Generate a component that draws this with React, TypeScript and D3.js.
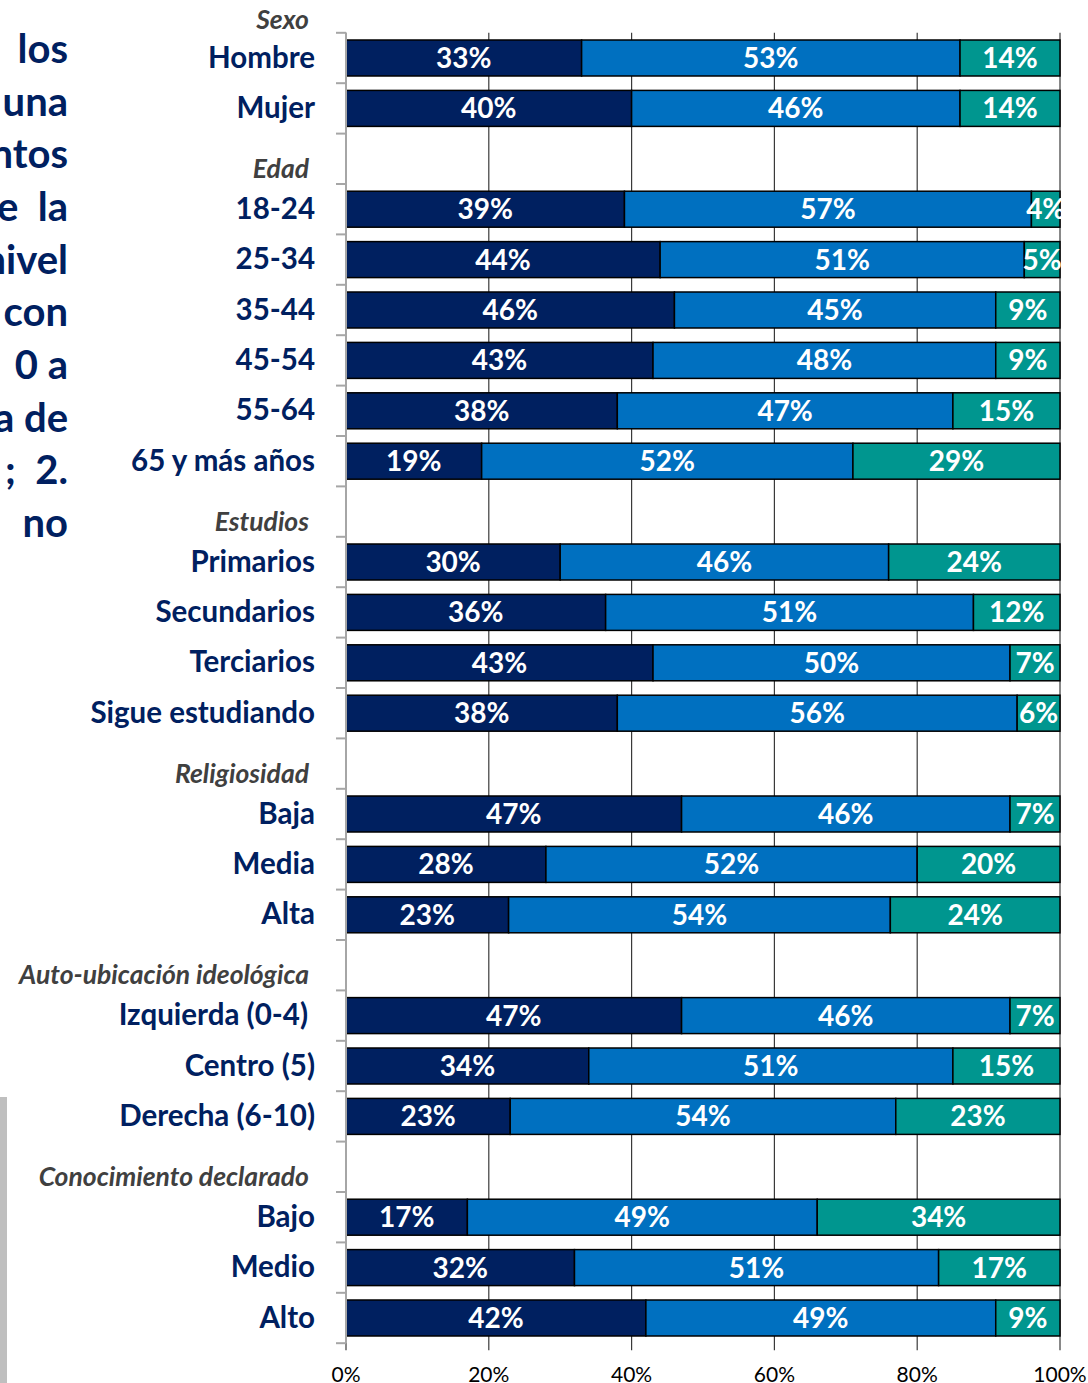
import React from "react";
import * as d3 from "d3";

const groupHeaders = ["Sexo", "Edad", "Estudios", "Religiosidad", "Auto-ubicación ideológica", "Conocimiento declarado"];

const categories = [
  "Hombre", "Mujer",
  "18-24", "25-34", "35-44", "45-54", "55-64", "65 y más años",
  "Primarios", "Secundarios", "Terciarios", "Sigue estudiando",
  "Baja", "Media", "Alta",
  "Izquierda (0-4)", "Centro (5)", "Derecha (6-10)",
  "Bajo", "Medio", "Alto",
];
const groupOf = [0, 0, 1, 1, 1, 1, 1, 1, 2, 2, 2, 2, 3, 3, 3, 4, 4, 4, 5, 5, 5];

const serieA = [33, 40, 39, 44, 46, 43, 38, 19, 30, 36, 43, 38, 47, 28, 23, 47, 34, 23, 17, 32, 42];
const serieB = [53, 46, 57, 51, 45, 48, 47, 52, 46, 51, 50, 56, 46, 52, 54, 46, 51, 54, 49, 51, 49];
const serieC = [14, 14, 4, 5, 9, 9, 15, 29, 24, 12, 7, 6, 7, 20, 24, 7, 15, 23, 34, 17, 9];

const xTicks = [0, 20, 40, 60, 80, 100];

const sideText = ["los", "una", "ntos", "e\u00a0\u00a0la", "nivel", "con", "0 a", "a de", ";\u00a0\u00a02.", "no"];

const seriesColors = ["#002060", "#0070C0", "#00968F"];

export default function App() {
  const W = 1088, H = 1383;
  const x0 = 346, x1 = 1060;
  const yTop = 32.8, yBot = 1343.2;

  const rows: string[] = [];
  const headerRow: { g: number; key: string }[] = [];
  categories.forEach((c, i) => {
    if (i > 0 && groupOf[i] !== groupOf[i - 1]) {
      const k = "gap-" + groupOf[i];
      rows.push(k);
      headerRow.push({ g: groupOf[i], key: k });
    }
    rows.push(c);
  });

  const x = d3.scaleLinear().domain([0, 1]).range([x0, x1]);
  const xAxis = d3.scaleLinear().domain([0, 100]).range([x0, x1]);
  const y = d3.scaleBand<string>().domain(rows).range([yTop, yBot]).paddingInner(0.286).paddingOuter(0.143);
  const bw = y.bandwidth();
  const step = y.step();
  const center = (k: string) => (y(k) as number) + bw / 2;

  const stackData = categories.map((c, i) => ({ cat: c, a: serieA[i], b: serieB[i], c: serieC[i] }));
  const keys = ["a", "b", "c"];
  const stack = d3.stack<any>().keys(keys).offset(d3.stackOffsetExpand)(stackData);

  const headers = [{ label: groupHeaders[0], cy: center(categories[0]) - step + 11 }].concat(
    headerRow.map((h) => ({ label: groupHeaders[h.g], cy: center(h.key) + 9 }))
  );

  const boundaries = d3.range(rows.length + 1).map((i) => yTop + i * step);

  const labelFont = "Lato, 'Open Sans', sans-serif";

  return (
    <div style={{ position: "absolute", left: 0, top: 0 }}>
      <svg width={W} height={H} style={{ display: "block", background: "#fff" }}>
        <defs>
          <clipPath id="plotclip">
            <rect x={x0} y={0} width={x1 - x0 + 3} height={H} />
          </clipPath>
        </defs>
        {sideText.map((t, i) => (
          <text
            key={"s" + i}
            x={68}
            y={48 + i * 52.65}
            textAnchor="end"
            dominantBaseline="central"
            fontFamily={labelFont}
            fontWeight={700}
            fontSize={40}
            fill="#002060"
          >
            {t}
          </text>
        ))}
        <rect x={0} y={1097} width={7} height={H - 1097} fill="#bfbfbf" />

        {xTicks.map((t) => (
          <line key={"g" + t} x1={xAxis(t)} x2={xAxis(t)} y1={yTop} y2={yBot + 7} stroke="#3a3a3a" strokeWidth={1.2} />
        ))}

        {stack.map((s, si) =>
          s.map((d, i) => (
            <rect
              key={"b" + si + "-" + i}
              x={x(d[0])}
              y={y(categories[i]) as number}
              width={x(d[1]) - x(d[0])}
              height={bw}
              fill={seriesColors[si]}
              stroke="#000"
              strokeWidth={1.5}
            />
          ))
        )}

        <g clipPath="url(#plotclip)">
          {stack.map((s, si) =>
            s.map((d, i) => (
              <text
                key={"l" + si + "-" + i}
                x={(x(d[0]) + x(d[1])) / 2}
                y={center(categories[i]) - 1}
                textAnchor="middle"
                dominantBaseline="central"
                fontFamily={labelFont}
                fontWeight={700}
                fontSize={28}
                fill="#fff"
              >
                {(d.data as any)[keys[si]] + "%"}
              </text>
            ))
          )}
        </g>

        <line x1={x0} x2={x0} y1={yTop} y2={yBot} stroke="#a6a6a6" strokeWidth={2} />
        {boundaries.map((b, i) => (
          <line key={"t" + i} x1={x0 - 10} x2={x0} y1={b} y2={b} stroke="#a6a6a6" strokeWidth={2} />
        ))}

        {categories.map((c) => (
          <text
            key={"c" + c}
            x={c === "Izquierda (0-4)" ? 308 : 315}
            y={center(c) - 2}
            textAnchor="end"
            dominantBaseline="central"
            fontFamily={labelFont}
            fontWeight={700}
            fontSize={29.5}
            fill="#002060"
          >
            {c}
          </text>
        ))}

        {headers.map((h) => (
          <text
            key={"h" + h.label}
            x={309}
            y={h.cy}
            textAnchor="end"
            dominantBaseline="central"
            fontFamily={labelFont}
            fontWeight={700}
            fontStyle="italic"
            fontSize={26.5}
            fill="#404040"
          >
            {h.label}
          </text>
        ))}

        {xTicks.map((t) => (
          <text
            key={"x" + t}
            x={xAxis(t)}
            y={1373}
            textAnchor="middle"
            dominantBaseline="central"
            fontFamily={labelFont}
            fontSize={21}
            fill="#000"
          >
            {t + "%"}
          </text>
        ))}
      </svg>
    </div>
  );
}
